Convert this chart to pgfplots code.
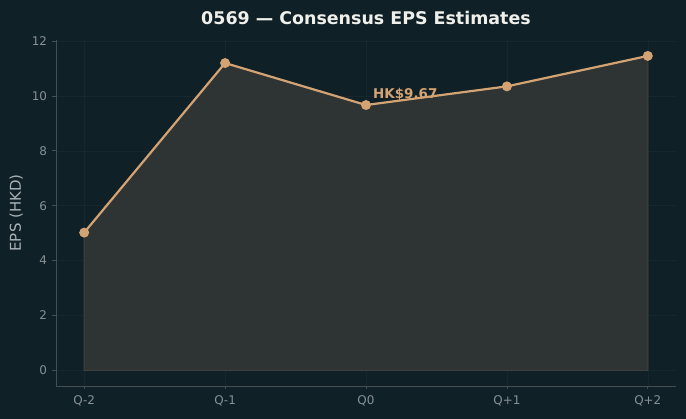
\documentclass[border=0pt]{standalone}
\usepackage{fontspec}
\setmainfont{DejaVu Sans}
\usepackage{pgfplots}
\pgfplotsset{compat=1.18}
\definecolor{bg}{RGB}{16,32,39}
\definecolor{fillc}{RGB}{46,51,51}
\definecolor{filledge}{RGB}{62,64,60}
\definecolor{linec}{RGB}{212,163,115}
\definecolor{tickc}{RGB}{135,145,148}
\definecolor{spinec}{RGB}{70,78,80}
\definecolor{gridc}{RGB}{24,39,45}
\definecolor{titlec}{RGB}{240,240,235}
\definecolor{labc}{RGB}{170,178,180}
\begin{document}
\begin{tikzpicture}
\path[fill=bg] (0,0) rectangle (686bp,419bp);
\begin{axis}[
  at={(56bp,33bp)}, anchor=south west,
  scale only axis, width=620bp, height=346bp,
  xmin=-0.2, xmax=4.2, ymin=-0.57, ymax=12.04,
  axis x line*=bottom, axis y line*=left,
  axis line style={spinec, line width=0.8bp, -},
  xtick={0,1,2,3,4},
  xticklabels={Q-2,Q-1,Q0,Q+1,Q+2},
  ytick={0,2,4,6,8,10,12},
  tick align=outside,
  major tick length=3.5bp,
  tick style={spinec, line width=0.8bp},
  ticklabel style={font=\fontsize{12}{14}\selectfont, text=tickc},
  /pgf/number format/assume math mode=true,
  xticklabel style={yshift=-3bp},
  yticklabel style={xshift=-2bp},
  grid=major,
  major grid style={gridc, line width=0.6bp},
  title={\bfseries 0569 — Consensus EPS Estimates},
  title style={font=\fontsize{17.5}{20}\selectfont, text=titlec, at={(0.5,1)}, anchor=south, yshift=6bp},
  ylabel={EPS (HKD)},
  ylabel style={font=\fontsize{15}{17}\selectfont, text=labc, at={(ticklabel cs:0.5)}, yshift=2bp},
  clip=false,
]
\addplot[fill=fillc, draw=filledge, line width=1bp] coordinates {
  (0,0) (0,5.02) (1,11.2) (2,9.67) (3,10.35) (4,11.46) (4,0)} -- cycle;
\addplot[linec, line width=2.2bp, mark=*, mark size=3.8bp, mark options={fill=linec, draw=linec}] coordinates {
  (0,5.02) (1,11.2) (2,9.67) (3,10.35) (4,11.46)};
\node[anchor=south west, inner sep=0, xshift=7bp, yshift=4bp, text=linec, font=\fontsize{13.5}{15}\selectfont\bfseries] at (axis cs:2,9.67) {HK\$9.67};
\end{axis}
\end{tikzpicture}
\end{document}
